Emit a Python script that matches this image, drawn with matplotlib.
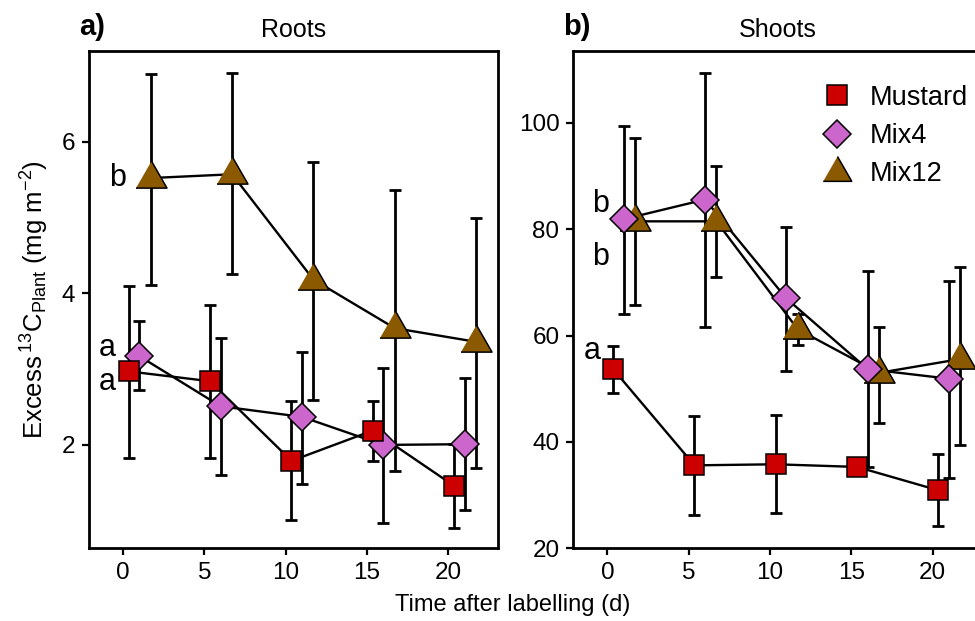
import matplotlib
matplotlib.use("Agg")
import matplotlib.pyplot as plt
from matplotlib.lines import Line2D

plt.rcParams['font.family'] = ['Liberation Sans', 'DejaVu Sans']
plt.rcParams['mathtext.fontset'] = 'custom'
plt.rcParams['mathtext.rm'] = 'Liberation Sans'
plt.rcParams['mathtext.it'] = 'Liberation Sans:italic'

# treatments
groups = ["Mustard", "Mix4", "Mix12"]
colors = {"Mustard": "#CC0000", "Mix4": "#CC66CC", "Mix12": "#8B5A00"}

# days after labelling (dodged per group)
x_mustard = [0.35, 5.35, 10.35, 15.35, 20.35]
x_mix4 = [1.0, 6.0, 11.0, 16.0, 21.0]
x_mix12 = [1.7, 6.7, 11.7, 16.7, 21.7]

# roots: mean, lower, upper
roots_mustard = [2.97, 2.84, 1.79, 2.19, 1.46]
roots_mustard_lo = [1.83, 1.83, 1.01, 1.79, 0.91]
roots_mustard_hi = [4.09, 3.85, 2.58, 2.58, 2.01]
roots_mix4 = [3.17, 2.51, 2.37, 2.00, 2.01]
roots_mix4_lo = [2.73, 1.61, 1.49, 0.97, 1.14]
roots_mix4_hi = [3.64, 3.41, 3.23, 3.02, 2.88]
roots_mix12 = [5.52, 5.57, 4.18, 3.54, 3.36]
roots_mix12_lo = [4.11, 4.25, 2.59, 1.66, 1.70]
roots_mix12_hi = [6.89, 6.91, 5.73, 5.36, 4.99]

# shoots: mean, lower, upper
shoots_mustard = [53.7, 35.6, 35.8, 35.3, 30.9]
shoots_mustard_lo = [49.2, 26.2, 26.6, 34.3, 24.2]
shoots_mustard_hi = [58.1, 44.9, 45.0, 36.3, 37.7]
shoots_mix4 = [81.9, 85.6, 67.0, 53.7, 51.9]
shoots_mix4_lo = [64.1, 61.6, 53.4, 35.3, 33.3]
shoots_mix4_hi = [99.5, 109.4, 80.5, 72.1, 70.3]
shoots_mix12 = [81.5, 81.5, 61.2, 53.0, 55.6]
shoots_mix12_lo = [65.8, 71.1, 58.3, 43.6, 39.5]
shoots_mix12_hi = [97.1, 91.9, 64.1, 61.6, 72.9]

xticks = [0, 5, 10, 15, 20]

roots = {
    "Mustard": (x_mustard, roots_mustard, roots_mustard_lo, roots_mustard_hi),
    "Mix4": (x_mix4, roots_mix4, roots_mix4_lo, roots_mix4_hi),
    "Mix12": (x_mix12, roots_mix12, roots_mix12_lo, roots_mix12_hi),
}
shoots = {
    "Mustard": (x_mustard, shoots_mustard, shoots_mustard_lo, shoots_mustard_hi),
    "Mix4": (x_mix4, shoots_mix4, shoots_mix4_lo, shoots_mix4_hi),
    "Mix12": (x_mix12, shoots_mix12, shoots_mix12_lo, shoots_mix12_hi),
}

# letters: (x, y, text)
roots_letters = [(-0.35, 5.52, "b"), (-0.95, 3.28, "a"), (-0.95, 2.83, "a")]
shoots_letters = [(-0.4, 84.7, "b"), (-0.4, 74.7, "b"), (-0.95, 57.1, "a")]

tri = [(-1, -0.62), (1, -0.62), (0, 1.12)]
markers = {"Mustard": "s", "Mix4": "D", "Mix12": tri}
msizes = {"Mustard": 14, "Mix4": 14, "Mix12": 25}
ptz = {"Mix12": 4, "Mix4": 5, "Mustard": 6}


def panel(ax, data, letters, ylim, yticks, title, tag):
    for g in groups:
        x, y, lo, hi = data[g]
        ax.plot(x, y, color="black", lw=1.7, zorder=2)
        err = [[m - l for m, l in zip(y, lo)], [h - m for m, h in zip(y, hi)]]
        ax.errorbar(x, y, yerr=err, fmt="none", ecolor="black", elinewidth=2.0,
                    capsize=4.5, capthick=2.0, zorder=3)
        ax.plot(x, y, ls="none", marker=markers[g], ms=msizes[g],
                mfc=colors[g], mec="black", mew=1.1, zorder=ptz[g])
    for lx, ly, t in letters:
        ax.text(lx, ly, t, fontsize=22, ha="center", va="center")
    ax.set_xlim(-2.1, 23.05)
    ax.set_ylim(*ylim)
    ax.set_xticks(xticks)
    ax.set_yticks(yticks)
    ax.tick_params(direction="out", length=5, width=1.6, labelsize=17.5, pad=5)
    for s in ax.spines.values():
        s.set_linewidth(2.0)
    ax.set_title(title, fontsize=18, pad=10)
    ax.text(-0.025, 1.02, tag, transform=ax.transAxes, fontsize=21,
            fontweight="bold", ha="left", va="bottom")


fig = plt.figure(figsize=(9.75, 6.21), dpi=100)
ax1 = fig.add_axes([0.0913, 0.1171, 0.4195, 0.8013])
ax2 = fig.add_axes([0.588, 0.1171, 0.4195, 0.8013])

panel(ax1, roots, roots_letters, (0.637, 7.2), [2, 4, 6], "Roots", "a)")
panel(ax2, shoots, shoots_letters, (20, 113.6), [20, 40, 60, 80, 100], "Shoots", "b)")

ax1.set_ylabel(r"Excess$\,^{13}$C$_{\mathrm{Plant}}$ (mg m$^{-2}$)", fontsize=18.5, labelpad=8)
fig.text(0.526, 0.025, "Time after labelling (d)", fontsize=17, ha="center", va="center")

handles = [Line2D([], [], ls="none", marker=markers[g], ms=msizes[g] if g != "Mix12" else 23,
                  mfc=colors[g], mec="black", mew=1.1) for g in groups]
ax2.legend(handles, groups, loc="upper left", bbox_to_anchor=(0.552, 0.953), frameon=False,
           fontsize=19.5, labelspacing=0.45, handletextpad=0.2, borderaxespad=0)

fig.savefig("out.png", dpi=100)
